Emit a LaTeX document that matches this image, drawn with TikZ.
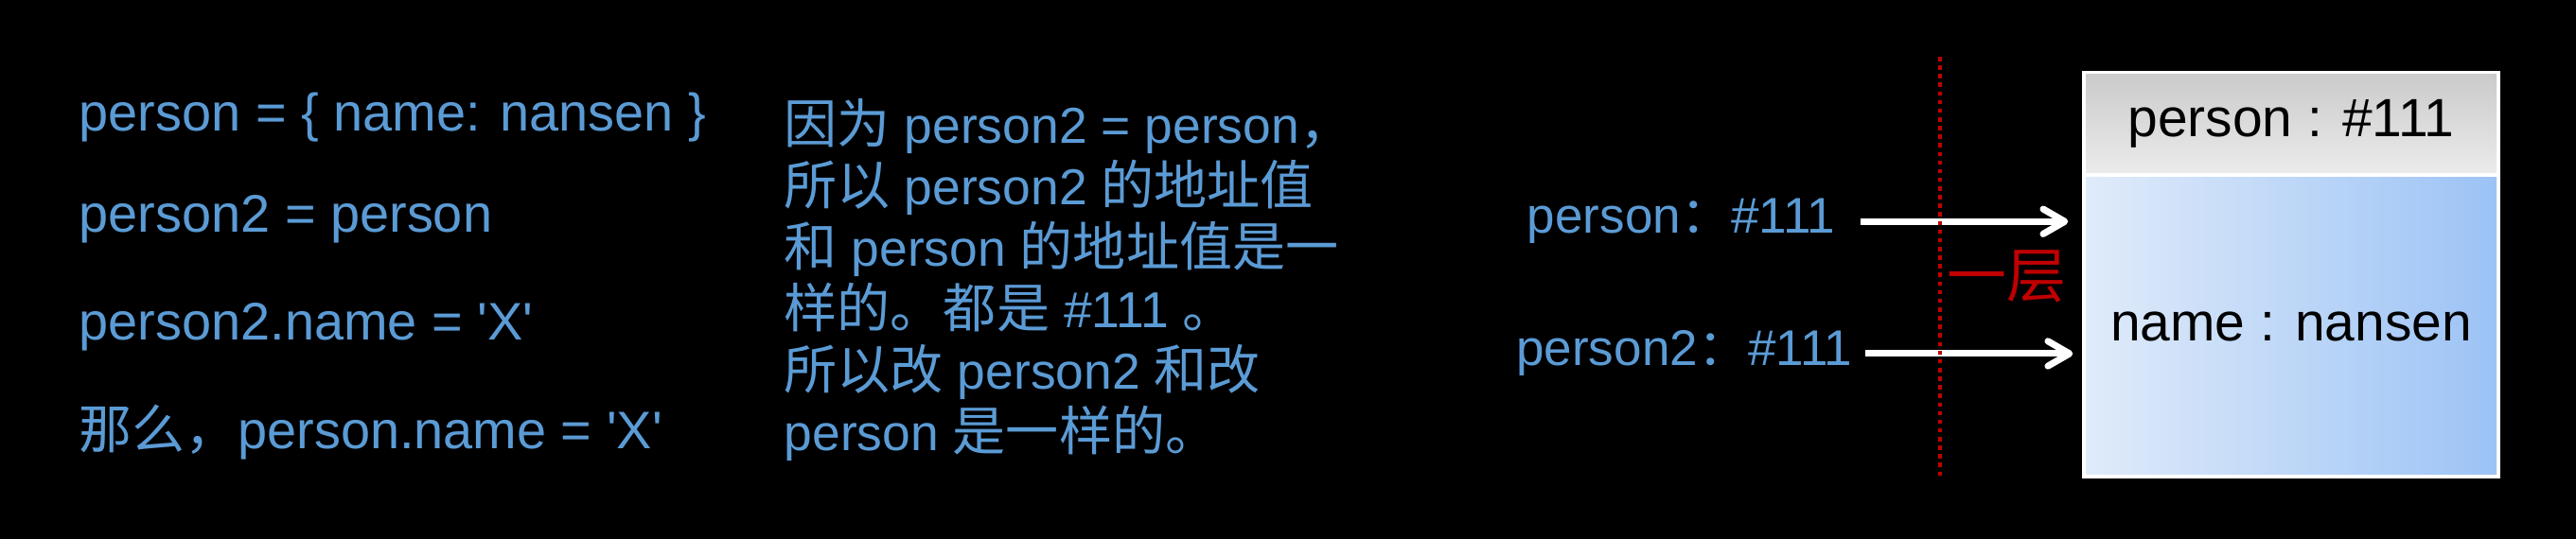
\documentclass[tikz,border=0pt]{standalone}
\usepackage{fontspec}
\setmainfont{Liberation Sans}[Ligatures=TeXOff]
\newfontfamily\cjk{Noto Sans CJK SC}
\newfontfamily\cjkwide{Noto Sans CJK SC}[Scale=1.05]
\newcommand\hz[1]{{\cjkwide #1}}
\usetikzlibrary{arrows.meta,positioning}
\definecolor{codeblue}{HTML}{5B9BD5}
\definecolor{layerred}{HTML}{C00000}
\definecolor{heapleft}{HTML}{E0EBFA}
\definecolor{heapright}{HTML}{9CC3F5}
\definecolor{headtop}{HTML}{CBCBCB}
\definecolor{headbot}{HTML}{EBEBEB}

\begin{document}
\begin{tikzpicture}[
    every node/.style={inner sep=0pt},
    code/.style={font=\fontsize{15.9}{19}\selectfont, text=codeblue, anchor=base west},
    note/.style={font=\fontsize{15.2}{18.5}\selectfont, text=codeblue, align=left, anchor=base west},
    ref/.style={font=\fontsize{15.1}{18}\selectfont, text=codeblue, anchor=base east},
    cell/.style={minimum width=4.34cm, font=\fontsize{16.2}{19}\selectfont, text=black},
    arr/.style={-{Straight Barb[length=6.5pt,width=7.5pt,round]}, line width=2pt, white},
    sep/.style={layerred, line width=1.3pt, dash pattern=on 1.3pt off 1.3pt},
  ]
  \fill[black] (0,0) rectangle (27.22,-5.70);
  \useasboundingbox (0,0) rectangle (27.22,-5.70);

  % code on the left
  \node[code] (l1) at (0.83,-1.39) {person = \{ name: nansen \}};
  \node[code] (l2) at (0.83,-2.46) {person2 = person};
  \node[code] (l3) at (0.83,-3.60) {person2.name = 'X'};
  \node[code] (l4) at (0.83,-4.75) {{\cjk 那么，}person.name = 'X'};

  % explanation (anchored on its last line)
  \node[note] (why) at (8.28,-4.77) {\hz{因为} person2 = person\hz{，}\\
    \hz{所以} person2 \hz{的地址值}\\
    \hz{和} person \hz{的地址值是一}\\
    \hz{样的。都是} \#111 \hz{。}\\
    \hz{所以改} person2 \hz{和改}\\
    person \hz{是一样的。}};

  % heap object
  \node[fill=white, minimum width=4.42cm, minimum height=4.31cm] (heap) at (24.21,-2.905) {};
  \node[cell, minimum height=1.04cm, top color=headtop, bottom color=headbot, anchor=north] (head) at ([yshift=-0.04cm]heap.north) {person : \#111};
  \node[cell, minimum height=3.14cm, left color=heapleft, right color=heapright, anchor=south] (body) at ([yshift=0.04cm]heap.south) {name : nansen};

  % references to the object
  \node[ref] (p1) at (19.40,-2.47) {person{\cjk ：}\#111};
  \node[ref] (p2) at (19.58,-3.87) {person2{\cjk ：}\#111};
  \draw[arr] ([xshift=0.26cm]p1.east) -- ([xshift=-0.14cm]p1.east -| heap.west);
  \draw[arr] ([xshift=0.13cm]p2.east) -- ([xshift=-0.09cm]p2.east -| heap.west);

  \coordinate (septop) at (20.50,-0.60);
  \coordinate (sepbot) at (20.50,-5.03);
  \draw[sep] (septop) -- (sepbot);
  \node[font=\fontsize{17.9}{20}\selectfont, text=layerred] (layer) at (21.20,-2.92) {\cjk 一层};
\end{tikzpicture}
\end{document}
